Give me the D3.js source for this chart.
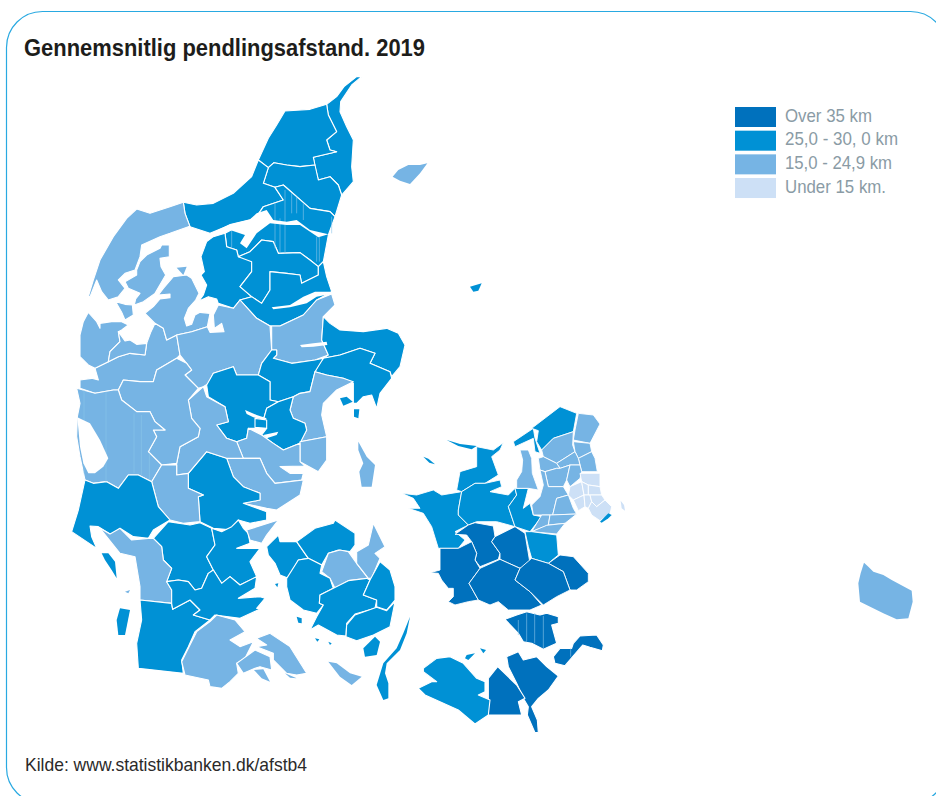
<!DOCTYPE html>
<html>
<head>
<meta charset="UTF-8">
<title>Gennemsnitlig pendlingsafstand. 2019</title>
<script src="https://d3js.org/d3.v7.min.js"></script>
<style>
  html, body { margin: 0; padding: 0; background: #fff; overflow: hidden; }
  text { font-family: "Liberation Sans", Arial, sans-serif; }
</style>
</head>
<body>
<svg id="map" width="936" height="796"></svg>
<script>
// Legend
const bands = ["Over 35 km", "25,0 - 30, 0 km", "15,0 - 24,9 km", "Under 15 km."];
const bandColors = ["#0071bd", "#0091d5", "#76b4e4", "#cde0f6"];
const bandWidths = [87, 113, 107, 101];

// Row: [name, band index, ring]
const northRegions = [
  ["Frederikshavn", 1, [[875,20],[845,45],[812,95],[810,125],[830,170],[850,210],[845,290],[850,335],[815,375],[805,345],[780,320],[745,330],[735,290],[730,262],[800,245],[780,240],[770,210],[800,185],[775,135],[770,103],[800,80],[822,50],[860,20]]],
  ["Hjørring", 1, [[770,103],[775,135],[800,185],[770,210],[780,240],[800,245],[730,262],[735,285],[690,290],[650,285],[612,278],[595,293],[565,270],[595,205],[620,165],[645,123],[720,118]]],
  ["Brønderslev", 1, [[595,293],[612,278],[650,285],[690,290],[735,285],[745,330],[780,320],[805,345],[815,375],[795,440],[780,425],[720,415],[640,345],[615,352],[580,340]]],
  ["Jammerbugt", 1, [[565,270],[595,293],[580,340],[615,352],[640,390],[580,410],[560,440],[540,450],[480,465],[420,490],[360,470],[345,430],[340,397],[380,405],[430,400],[490,370],[545,320]]],
  ["Aalborg", 1, [[640,345],[720,415],[780,425],[795,440],[775,495],[760,575],[745,590],[720,570],[690,548],[625,550],[610,515],[575,510],[540,545],[505,560],[500,540],[470,530],[465,490],[560,440],[580,410],[640,390],[615,352]]],
  ["Vesthimmerland", 1, [[465,490],[470,530],[500,540],[505,560],[530,565],[545,575],[545,605],[510,650],[545,680],[510,690],[490,715],[445,700],[440,687],[415,680],[387,693],[400,675],[410,645],[393,615],[403,605],[393,560],[410,515],[430,500]]],
  ["Rebild", 1, [[505,560],[540,545],[575,510],[610,515],[625,550],[690,548],[720,570],[745,590],[745,615],[695,640],[690,615],[650,610],[600,605],[600,660],[575,700],[545,680],[510,650],[545,605],[545,575]]],
  ["Mariagerfjord", 1, [[575,700],[600,660],[600,605],[650,610],[690,615],[695,640],[745,615],[745,590],[760,575],[770,620],[785,665],[740,690],[700,735],[630,768],[600,768],[560,745],[510,690],[545,680]]],
  ["Randers", 2, [[600,768],[630,768],[700,735],[740,690],[785,672],[795,705],[760,740],[755,810],[775,855],[735,870],[665,880],[610,865],[620,855],[620,840],[605,840],[605,770]]],
  ["Norddjurs", 1, [[760,740],[780,760],[810,780],[880,785],[950,775],[985,790],[1005,825],[990,890],[965,920],[960,905],[900,880],[915,850],[870,835],[810,855],[760,865],[775,855],[755,810]]],
  ["Syddjurs", 1, [[760,865],[810,855],[870,835],[915,850],[900,880],[960,905],[965,925],[930,970],[920,1015],[905,975],[880,980],[860,1000],[850,1000],[850,940],[820,925],[770,915],[735,905],[745,885]]],
  ["Holstebro", 2, [[75,970],[30,955],[30,930],[65,925],[85,930],[75,895],[115,875],[145,860],[180,850],[225,855],[230,820],[243,785],[255,760],[280,775],[290,810],[320,795],[330,855],[320,865],[260,900],[250,935],[210,935],[160,930],[145,960],[130,960]]],
  ["Læsø", 2, [[968,320],[985,300],[1015,285],[1050,285],[1072,280],[1050,310],[1020,342],[990,332]]],
  ["Anholt", 1, [[1200,650],[1235,640],[1225,662],[1210,665]]]
];

const limfjordRegions = [
  ["Thisted", 2, [[325,-68],[285,-55],[225,-35],[185,-48],[155,-20],[115,35],[75,105],[55,165],[40,215],[45,215],[65,165],[80,200],[100,225],[130,215],[150,190],[130,165],[150,145],[180,135],[195,95],[200,60],[255,35],[285,25],[340,5],[345,5],[330,-35]]],
  ["Morsø", 2, [[195,110],[215,90],[255,70],[260,60],[283,60],[283,95],[255,100],[258,125],[272,150],[240,205],[205,230],[178,240],[182,222],[195,205],[160,190],[150,170],[185,150],[185,135]]],
  ["Fur", 2, [[305,128],[335,125],[325,150]]],
  ["Thyholm", 2, [[122,230],[150,238],[172,240],[175,270],[150,285],[140,262]]],
  ["Lemvig", 2, [[40,262],[65,290],[75,310],[75,295],[110,290],[140,290],[160,300],[140,315],[130,320],[135,350],[105,380],[100,410],[60,430],[40,420],[15,395],[15,330],[25,290]]],
  ["Struer", 2, [[130,320],[150,348],[165,345],[185,358],[215,355],[210,390],[165,385],[130,395],[100,410],[105,380],[135,350]]],
  ["Skive", 2, [[235,290],[240,295],[265,310],[275,345],[305,330],[350,320],[397,305],[405,265],[375,262],[360,270],[350,298],[335,303],[328,280],[340,250],[362,225],[372,205],[350,160],[335,150],[295,155],[265,190],[250,210],[285,207],[285,218],[255,222],[235,245],[210,265]]]
];

const midRegions = [
  ["Viborg", 2, [[320,-15],[365,-25],[412,-40],[420,-23],[462,-25],[455,-50],[433,-35],[430,-75],[445,-105],[490,-95],[510,-120],[560,-65],[600,-42],[605,30],[575,70],[565,105],[500,105],[490,80],[430,100],[415,130],[400,140],[385,145],[345,105],[365,90],[350,70],[330,45]]],
  ["Favrskov", 1, [[575,70],[605,30],[620,30],[620,45],[610,55],[665,70],[735,60],[760,55],[735,95],[720,155],[690,160],[670,170],[625,185],[600,180],[600,125],[565,105]]],
  ["Aarhus", 2, [[670,170],[690,160],[720,155],[735,95],[770,105],[820,115],[850,125],[800,150],[760,190],[755,225],[770,290],[690,305],[710,270],[705,250],[670,235],[660,210]]],
  ["Silkeborg", 1, [[410,135],[430,100],[490,80],[500,105],[565,105],[600,125],[600,180],[625,185],[590,205],[580,240],[590,265],[535,265],[530,295],[500,305],[470,295],[440,255],[475,245],[465,200],[415,170]]],
  ["Skanderborg", 1, [[590,205],[625,185],[670,170],[660,210],[670,235],[705,250],[710,270],[690,310],[640,330],[610,310],[575,285],[590,265],[580,240]]],
  ["Skanderborg vest", 1, [[555,235],[590,240],[590,265],[555,262]]],
  ["Odder", 2, [[690,305],[770,290],[770,360],[745,395],[690,365]]],
  ["Samsø", 2, [[865,305],[890,350],[915,375],[905,440],[875,440],[868,395],[880,370],[865,330]]],
  ["Horsens", 2, [[500,305],[530,295],[535,265],[575,285],[610,310],[640,330],[690,310],[690,365],[705,378],[630,380],[660,400],[700,400],[695,420],[615,430],[590,400],[570,355],[520,355]]],
  ["Hedensted", 2, [[470,355],[520,355],[570,355],[590,400],[615,430],[700,420],[690,465],[620,510],[590,505],[520,490],[570,480],[570,460],[520,440],[490,410]]],
  ["Vejle", 1, [[355,400],[410,335],[470,355],[490,410],[520,440],[570,460],[570,480],[520,490],[590,515],[590,540],[540,550],[505,540],[490,570],[430,565],[390,545],[385,470],[400,465],[355,445]]],
  ["Ikast-Brande", 2, [[355,180],[400,140],[410,170],[465,200],[475,245],[440,255],[470,295],[500,305],[520,355],[470,355],[410,335],[355,400],[320,405],[320,370],[330,320],[385,290],[390,265],[365,235]]],
  ["Herning", 2, [[145,150],[160,120],[210,125],[250,125],[260,90],[320,55],[350,70],[365,90],[345,105],[385,145],[355,180],[365,235],[390,265],[385,290],[330,320],[320,370],[275,375],[235,335],[260,290],[250,270],[285,270],[255,245],[240,215],[200,215],[155,180]]],
  ["Ringkøbing-Skjern", 2, [[20,145],[75,160],[130,150],[145,150],[155,180],[200,215],[240,215],[255,245],[285,270],[250,270],[260,290],[235,335],[275,375],[245,425],[205,405],[175,405],[145,445],[110,425],[70,430],[45,420],[30,350],[20,290],[22,230],[30,190]]],
  ["Billund", 2, [[275,375],[320,375],[320,405],[355,400],[355,445],[400,465],[385,470],[390,545],[340,550],[300,540],[265,500],[245,425]]],
  ["Varde", 1, [[45,420],[70,430],[110,425],[145,445],[175,405],[205,405],[245,425],[265,500],[300,540],[250,570],[235,595],[190,590],[150,565],[125,585],[85,560],[60,558],[65,590],[80,625],[5,575],[25,510]]],
  ["Mols", 1, [[810,175],[830,170],[848,185],[820,197]]],
  ["Helgenæs", 1, [[852,208],[868,208],[865,235],[852,230]]]
];

const southRegions = [
  ["Vejen", 1, [[205,35],[160,85],[185,110],[190,150],[215,175],[200,215],[235,210],[265,215],[285,240],[305,235],[325,190],[340,180],[320,140],[345,105],[335,55],[300,38],[270,45]]],
  ["Esbjerg", 2, [[0,55],[30,72],[60,55],[95,90],[145,85],[160,85],[185,110],[190,150],[215,175],[200,215],[215,240],[215,280],[120,270],[120,230],[105,140],[60,130]]],
  ["Kolding", 1, [[335,55],[365,65],[395,50],[415,30],[430,55],[445,70],[450,100],[410,115],[480,115],[450,155],[470,200],[420,225],[390,200],[365,220],[340,180],[320,140],[345,105]]],
  ["Fredericia", 2, [[440,60],[535,30],[500,75],[485,100],[450,90]]],
  ["Tønder", 1, [[120,270],[215,280],[218,298],[270,270],[300,300],[280,315],[330,330],[285,365],[265,410],[245,450],[250,490],[115,475],[110,400],[125,330]]],
  ["Aabenraa", 1, [[215,240],[200,215],[235,210],[265,215],[285,240],[305,235],[325,190],[340,180],[365,220],[390,200],[420,225],[470,200],[465,235],[415,265],[480,260],[495,265],[470,295],[485,295],[420,325],[345,315],[330,330],[280,315],[300,300],[270,270],[218,298],[215,280]]],
  ["Sønderborg", 2, [[350,315],[405,330],[435,365],[390,390],[420,410],[460,395],[435,445],[410,460],[415,490],[390,515],[365,535],[330,530],[325,510],[255,495],[245,455],[265,415],[290,365],[330,335]]],
  ["Als", 2, [[470,385],[510,370],[570,410],[620,490],[590,495],[560,490],[520,450],[520,430],[470,410],[500,405]]],
  ["Als vest", 2, [[465,420],[510,440],[515,480],[480,470],[465,475],[430,490],[410,460]]],
  ["Kegnæs", 2, [[462,480],[490,478],[510,515],[485,505]]],
  ["Ærø vest", 2, [[555,490],[590,505],[570,503]]],
  ["Fanø", 1, [[5,130],[25,130],[45,155],[50,205],[35,180],[15,150]]],
  ["Rømø", 1, [[60,295],[90,300],[75,375],[55,375],[50,330]]],
  ["Mandø", 2, [[75,245],[90,240],[85,250]]],
  ["Middelfart", 1, [[500,110],[535,75],[540,95],[590,95],[625,145],[595,150],[565,205],[540,195],[525,160],[505,135]]],
  ["Nordfyn", 1, [[590,95],[645,55],[700,40],[705,30],[765,70],[765,105],[750,125],[715,120],[685,130],[665,165],[625,145]]],
  ["Odense", 2, [[665,185],[685,130],[720,120],[745,125],[770,160],[805,205],[745,212],[705,235],[690,205]]],
  ["Kerteminde", 2, [[770,125],[805,105],[820,40],[855,110],[825,130],[840,145],[815,205],[805,205],[770,160]]],
  ["Assens", 1, [[560,205],[595,150],[625,145],[665,165],[660,190],[690,205],[700,235],[660,255],[658,280],[670,285],[650,310],[610,300],[570,270],[560,230]]],
  ["Faaborg-Midtfyn", 1, [[700,235],[745,212],[800,205],[810,210],[790,255],[830,270],[825,295],[765,312],[740,340],[738,378],[710,375],[655,345],[630,360],[650,320],[670,285],[658,280],[660,255]]],
  ["Nyborg", 1, [[840,155],[870,180],[885,230],[885,270],[860,300],[830,290],[830,270],[790,255],[810,210]]],
  ["Svendborg", 1, [[830,292],[860,302],[885,275],[870,350],[820,375],[770,392],[738,380],[740,345],[765,315]]],
  ["Tåsinge", 1, [[790,415],[825,380],[840,395],[830,435],[795,440]]],
  ["Ærø", 2, [[685,455],[710,460],[750,490],[785,500],[755,525],[720,500]]],
  ["Langeland", 1, [[930,320],[920,370],[900,420],[860,460],[855,490],[865,520],[865,565],[850,570],[830,525],[850,460],[890,415],[910,370]]],
  ["Lyø", 1, [[590,320],[605,325],[605,340],[595,338]]],
  ["Bågø", 1, [[525,222],[535,220],[532,232]]],
  ["Strynø", 1, [[645,385],[658,388],[652,395]]],
  ["Birkholm", 1, [[685,395],[695,400],[690,405]]]
];

const zealandRegions = [
  ["Kalundborg", 1, [[5,280],[50,285],[100,270],[125,285],[185,275],[175,330],[175,345],[205,375],[165,395],[195,420],[175,445],[115,445],[95,380],[70,340],[25,325],[60,325],[40,295]]],
  ["Odsherred", 1, [[170,270],[180,215],[230,200],[230,140],[280,150],[310,128],[300,150],[275,170],[295,225],[255,250],[225,250],[185,275]]],
  ["Odden", 1, [[140,120],[180,132],[230,138],[215,148],[175,138]]],
  ["Sejerø", 1, [[70,170],[85,176],[105,193],[88,188]]],
  ["Holbæk", 1, [[185,275],[225,250],[255,250],[300,240],[305,260],[270,275],[325,285],[345,265],[350,285],[325,320],[345,380],[290,365],[230,365],[205,375],[175,345],[175,330]]],
  ["Lejre", 1, [[325,320],[350,285],[345,265],[385,265],[370,325],[390,310],[400,345],[425,350],[390,395],[345,380]]],
  ["Frederikssund", 2, [[360,150],[385,150],[395,175],[397,220],[415,270],[385,265],[350,265],[350,240],[365,215],[368,180]]],
  ["Halsnæs", 1, [[340,125],[400,85],[405,115],[420,160],[405,155],[400,115],[345,140]]],
  ["Gribskov", 1, [[395,85],[480,20],[530,40],[520,95],[460,115],[425,150],[410,125],[415,92]]],
  ["Helsingør", 2, [[535,40],[580,45],[600,72],[570,130],[520,120],[525,90]]],
  ["Hillerød", 2, [[425,150],[460,115],[520,95],[518,135],[525,155],[470,190],[430,170]]],
  ["Fredensborg", 2, [[520,125],[570,130],[575,155],[535,175],[525,155]]],
  ["Hørsholm", 2, [[535,175],[575,155],[585,175],[592,215],[545,215],[540,195]]],
  ["Allerød", 2, [[470,190],[525,155],[535,175],[540,195],[510,195],[480,205]]],
  ["Frederiksværk", 2, [[415,175],[430,170],[470,190],[480,205],[470,205],[435,215],[420,210]]],
  ["Egedal", 2, [[435,215],[470,205],[480,205],[510,195],[500,240],[490,260],[445,260]]],
  ["Lyngby", 2, [[510,195],[540,195],[545,215],[540,235],[510,260],[500,240]]],
  ["Roskilde", 2, [[420,210],[435,215],[445,260],[490,260],[505,285],[470,295],[458,345],[400,345],[395,315],[420,290],[430,255]]],
  ["Høje-Taastrup", 2, [[470,295],[505,285],[520,325],[530,342],[458,345]]],
  ["Køge", 2, [[395,395],[425,345],[450,345],[445,375]]],
  ["Solrød", 2, [[450,345],[530,342],[495,370],[445,375]]],
  ["Greve", 2, [[440,376],[495,370],[470,402],[395,395]]],
  ["Ballerup", 3, [[540,220],[600,220],[600,260],[565,255],[545,245]]],
  ["Gladsaxe", 3, [[510,260],[545,245],[552,285],[520,300],[505,285]]],
  ["Herlev", 3, [[545,245],[565,255],[565,285],[552,285]]],
  ["Gentofte", 3, [[565,255],[600,260],[605,285],[565,285]]],
  ["Glostrup", 3, [[520,300],[552,285],[555,320],[535,332]]],
  ["Rødovre", 3, [[552,285],[570,285],[575,305],[565,325],[555,320]]],
  ["København", 3, [[570,285],[605,285],[615,300],[590,320],[575,305]]],
  ["Tårnby", 3, [[565,325],[575,305],[590,320],[615,300],[635,320],[630,342],[600,362],[575,345]]],
  ["Saltholm", 3, [[662,302],[672,315],[675,332],[665,325]]],
  ["Dragør", 1, [[600,365],[625,340],[635,345],[625,355],[605,368]]],
  ["Sorø", 0, [[205,375],[225,368],[280,378],[285,410],[275,425],[300,460],[295,478],[240,500],[225,480],[230,460],[215,425],[200,405],[165,403]]],
  ["Ringsted", 0, [[285,410],[345,380],[375,400],[390,490],[360,505],[300,478],[300,460],[275,425]]],
  ["Køge syd", 1, [[375,395],[395,395],[470,405],[475,465],[445,490],[395,475],[385,440]]],
  ["Stevns", 0, [[445,490],[480,465],[520,470],[565,520],[565,545],[530,570],[510,570],[490,515]]],
  ["Slagelse", 0, [[120,445],[175,445],[215,425],[230,460],[225,480],[240,505],[207,550],[235,600],[205,605],[165,615],[145,605],[160,590],[160,565],[145,565],[125,540],[115,520],[90,518],[120,510]]],
  ["Næstved", 0, [[240,505],[300,478],[360,505],[345,540],[390,575],[425,615],[390,630],[325,630],[295,605],[270,615],[235,600],[207,550]]],
  ["Faxe", 0, [[360,505],[395,475],[445,490],[490,515],[510,570],[470,590],[430,615],[390,575],[345,540]]]
];

const lollandRegions = [
  ["Vordingborg", 0, [[315,58],[350,45],[380,35],[420,45],[440,40],[475,50],[475,70],[455,75],[470,130],[430,148],[395,130],[370,125],[355,100]]],
  ["Møn", 0, [[460,170],[480,145],[515,145],[520,130],[540,108],[590,105],[610,135],[607,152],[570,142],[548,135],[522,165],[495,197],[465,190]]],
  ["Guldborgsund", 0, [[320,170],[355,155],[370,180],[410,170],[440,200],[475,228],[445,270],[415,295],[395,320],[412,360],[415,398],[405,398],[382,345],[385,320],[373,300],[350,250],[325,200]]],
  ["Lolland øst", 0, [[265,235],[293,200],[350,255],[375,295],[355,305],[365,345],[265,345]]],
  ["Lolland", 1, [[70,205],[110,175],[150,170],[190,190],[230,235],[255,245],[255,275],[235,285],[270,300],[265,345],[225,372],[175,330],[130,310],[75,285],[55,265],[95,245],[110,245],[70,215]]],
  ["Femø", 1, [[200,165],[225,160],[205,180],[195,175]]],
  ["Fejø", 1, [[240,145],[258,150],[250,160]]]
];

const bornholmRegions = [
  ["Bornholm", 2, [[72,38],[85,50],[100,65],[130,75],[155,90],[215,122],[218,155],[205,205],[170,208],[130,190],[60,155],[55,100],[62,70]]]
];

// Drawn without a white edge, they are too small to lose it
const smallIslands = ["Læsø", "Anholt", "Fur", "Fanø", "Rømø", "Mandø", "Langeland", "Ærø", "Ærø vest", "Kegnæs", "Lyø", "Bågø", "Strynø", "Birkholm", "Tåsinge", "Mols", "Helgenæs", "Samsø", "Odden", "Sejerø", "Saltholm", "Dragør", "Femø", "Fejø", "Bornholm"];

// Fjords and lakes that cut through a region
const northWater = [
  [[420,492],[480,462],[540,448],[560,430],[590,420],[610,450],[650,455],[680,450],[720,480],[775,493],[745,502],[690,465],[650,465],[600,460],[560,490],[530,535],[510,520],[525,495],[480,480],[430,500]],
  [[605,712],[660,705],[700,680],[735,665],[785,665],[780,672],[740,680],[710,700],[660,712],[610,718]],
  [[690,825],[730,820],[770,815],[772,825],[730,830],[695,832]]
];
const midWater = [
  [[22,232],[60,250],[90,300],[115,355],[100,380],[75,400],[55,400],[40,370],[30,320]],
  [[525,210],[560,225],[590,235],[585,240],[550,232],[530,222]],
  [[580,285],[625,275],[620,285],[590,295]]
];

// Thin light streaks inside some regions, [x, top, bottom]
const northStreaks = [[615,400,535],[630,445,550],[645,360,550],[665,370,430],[680,380,430],[700,400,450],[740,500,575],[748,500,575],[785,440,490],[485,480,535]];
const midStreaks = [[42,150,400],[108,155,425],[192,220,400],[214,225,405],[238,340,420]];
const lollandStreaks = [[355,60,105],[380,40,125],[404,40,130],[430,48,145],[512,145,170]];

const sheetOrigins = { north: [70,70], limfjord: [75,225], mid: [70,340], south: [100,510], zealand: [400,400], lolland: [400,600], bornholm: [840,550] };

const svg = d3.select("#map");
const color = d3.scaleOrdinal().domain(d3.range(bands.length)).range(bandColors);

// Frame
svg.append("rect")
  .attr("x", 6.5).attr("y", 11.5)
  .attr("width", 940).attr("height", 792)
  .attr("rx", 36).attr("ry", 36)
  .attr("fill", "#fff").attr("stroke", "#29a9e1").attr("stroke-width", 1.2);

// Every sheet gets its own identity projection
function pathFor(sheet) {
  return d3.geoPath(d3.geoIdentity().scale(1 / 3).translate(sheetOrigins[sheet]));
}

const map = svg.append("g").attr("id", "regions");

function drawRegions(rows, sheet, strokeW) {
  const path = pathFor(sheet);
  map.selectAll("path." + sheet)
    .data(rows).enter()
    .append("path")
    .attr("class", sheet)
    .attr("d", d => path({ type: "Polygon", coordinates: [d[2].concat([d[2][0]])] }))
    .attr("fill", d => color(d[1]))
    .attr("stroke", d => smallIslands.includes(d[0]) ? "none" : "#fff")
    .attr("stroke-width", strokeW)
    .attr("stroke-linejoin", "round");
}

drawRegions(northRegions, "north", 1.1);
drawRegions(limfjordRegions, "limfjord", 1.1);
drawRegions(midRegions, "mid", 1.1);
drawRegions(southRegions, "south", 1.1);
drawRegions(zealandRegions, "zealand", 0.9);
drawRegions(lollandRegions, "lolland", 1.1);
drawRegions(bornholmRegions, "bornholm", 0);

function drawStreaks(rows, sheet) {
  const path = pathFor(sheet);
  map.selectAll("path.streak-" + sheet)
    .data(rows).enter()
    .append("path")
    .attr("class", "streak-" + sheet)
    .attr("d", d => path({ type: "LineString", coordinates: [[d[0], d[1]], [d[0], d[2]]] }))
    .attr("fill", "none")
    .attr("stroke", "#8cc6ea")
    .attr("stroke-width", 0.6);
}
drawStreaks(northStreaks, "north");
drawStreaks(midStreaks, "mid");
drawStreaks(lollandStreaks, "lolland");

function drawWater(rows, sheet) {
  const path = pathFor(sheet);
  map.selectAll("path.water-" + sheet)
    .data(rows).enter()
    .append("path")
    .attr("class", "water-" + sheet)
    .attr("d", d => path({ type: "Polygon", coordinates: [d.concat([d[0]])] }))
    .attr("fill", "#fff");
}
drawWater(northWater, "north");
drawWater(midWater, "mid");

// Title and source
svg.append("text")
  .attr("x", 24).attr("y", 56)
  .attr("font-size", 24).attr("font-weight", "bold")
  .attr("fill", "#1d1d1b")
  .attr("textLength", 401).attr("lengthAdjust", "spacingAndGlyphs")
  .text("Gennemsnitlig pendlingsafstand. 2019");

svg.append("text")
  .attr("x", 25).attr("y", 771)
  .attr("font-size", 19)
  .attr("fill", "#2b2a29")
  .attr("textLength", 282).attr("lengthAdjust", "spacingAndGlyphs")
  .text("Kilde: www.statistikbanken.dk/afstb4");

// Legend
const legendY = d3.scaleBand().domain(d3.range(bands.length)).range([106, 200]).paddingInner(0.03);
const legend = svg.selectAll("g.key").data(bands).enter().append("g").attr("class", "key");

legend.append("rect")
  .attr("x", 735).attr("y", (d, i) => legendY(i) + 1)
  .attr("width", 41).attr("height", 20)
  .attr("fill", (d, i) => color(i));

legend.append("text")
  .attr("x", 785).attr("y", (d, i) => legendY(i) + 15.5)
  .attr("font-size", 19)
  .attr("fill", "#8a9ba5")
  .attr("textLength", (d, i) => bandWidths[i]).attr("lengthAdjust", "spacingAndGlyphs")
  .text(d => d);
</script>
</body>
</html>
